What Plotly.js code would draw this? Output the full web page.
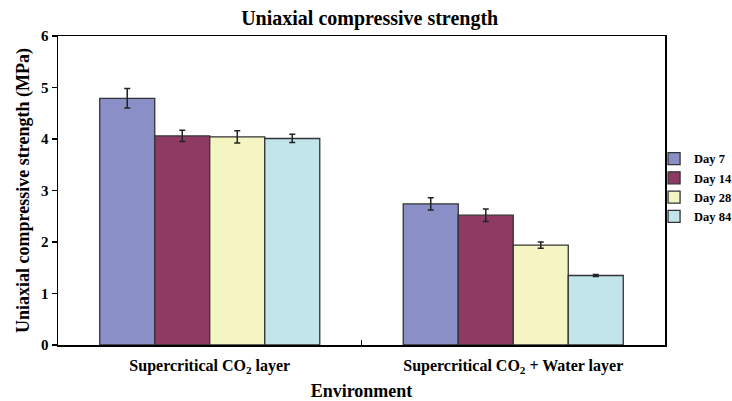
<!DOCTYPE html>
<html>
<head>
<meta charset="utf-8">
<script src="https://cdn.plot.ly/plotly-3.0.1.min.js"></script>
<style>html,body{margin:0;padding:0;background:#fff;}#chart{width:732px;height:401px;}</style>
</head>
<body>
<div id="chart"></div>
<script>
const categories = ["Supercritical CO<sub>2</sub> layer", "Supercritical CO<sub>2</sub> + Water layer"];
const seriesNames = ["Day 7", "Day 14", "Day 28", "Day 84"];
const day7 = [4.79, 2.74];
const day14 = [4.06, 2.52];
const day28 = [4.04, 1.94];
const day84 = [4.01, 1.35];
const err7 = [0.19, 0.12];
const err14 = [0.11, 0.12];
const err28 = [0.12, 0.06];
const err84 = [0.08, 0.02];
const colors = ["#8a8fc8", "#8e3a62", "#f5f5c3", "#c1e5ea"];
const yTicks = [0, 1, 2, 3, 4, 5, 6];

const values = [day7, day14, day28, day84];
const errs = [err7, err14, err28, err84];
const font = "Liberation Serif, Times New Roman, serif";

const traces = seriesNames.map((n, i) => ({
  type: "bar",
  name: "<b>" + n + "</b>",
  x: categories,
  y: values[i],
  marker: {color: colors[i], line: {color: "#333333", width: 1.3}},
  error_y: {type: "data", array: errs[i], visible: true, color: "#222222", thickness: 1.5, width: 3}
}));

const layout = {
  width: 732, height: 401,
  margin: {l: 58, r: 67, t: 36, b: 56, autoexpand: false},
  paper_bgcolor: "#fff", plot_bgcolor: "#fff",
  barmode: "group", bargap: 0.275, bargroupgap: 0,
  font: {family: font, color: "#000"},
  title: {text: "<b>Uniaxial compressive strength</b>", x: 0.505, xanchor: "center", y: 0.955, yanchor: "middle", font: {size: 20, family: font, color: "#000"}},
  xaxis: {
    type: "category",
    tickvals: categories,
    ticktext: categories.map(c => "<b>" + c + "</b>"),
    tickfont: {size: 16, family: font, color: "#000"},
    ticklabelstandoff: 5,
    showline: true, linecolor: "#000", linewidth: 1.5, mirror: true,
    ticks: "inside", tickson: "boundaries", ticklen: 5, tickcolor: "#000", tickwidth: 1.3,
    showgrid: false, zeroline: false,
    title: {text: "<b>Environment</b>", font: {size: 18, family: font, color: "#000"}, standoff: 13}
  },
  yaxis: {
    range: [0, 6],
    tickvals: yTicks,
    ticktext: yTicks.map(v => "<b>" + v + "</b>"),
    tickfont: {size: 15, family: font, color: "#000"},
    showline: true, linecolor: "#000", linewidth: 1.5, mirror: true,
    ticks: "outside", ticklen: 5, tickcolor: "#000", tickwidth: 1.3,
    showgrid: false, zeroline: false,
    title: {text: "<b>Uniaxial compressive strength (MPa)</b>", font: {size: 18, family: font, color: "#000"}, standoff: 6}
  },
  legend: {
    x: 0.982, xanchor: "left", y: 0.51, yanchor: "middle",
    font: {size: 12.5, family: font, color: "#000"},
    bgcolor: "rgba(0,0,0,0)", itemwidth: 30, traceorder: "normal"
  },
  showlegend: true
};

Plotly.newPlot("chart", traces, layout, {displayModeBar: false, staticPlot: true});
</script>
</body>
</html>
